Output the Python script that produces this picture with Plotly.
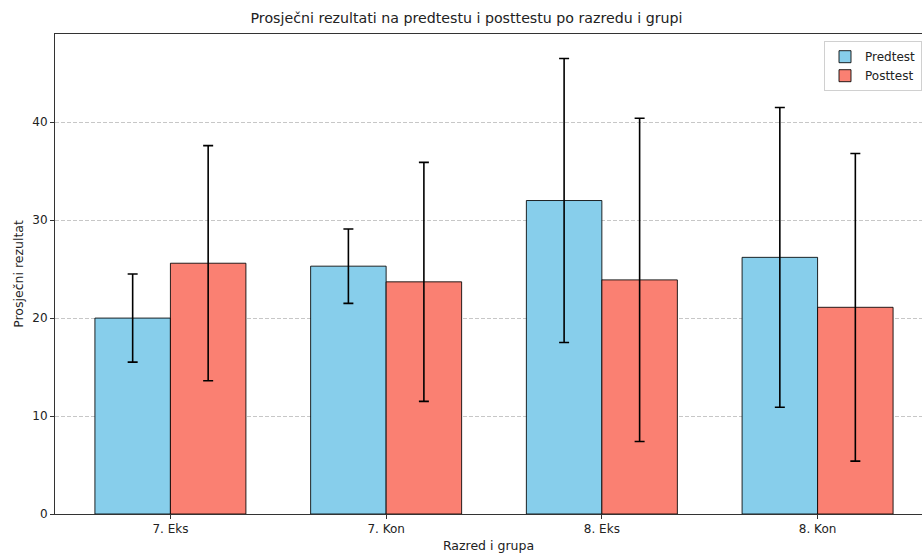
import plotly.graph_objects as go

categories = ["7. Eks", "7. Kon", "8. Eks", "8. Kon"]
pred_mean = [20.0, 25.3, 32.0, 26.2]
pred_err = [4.5, 3.8, 14.5, 15.3]
post_mean = [25.6, 23.7, 23.9, 21.1]
post_err = [12.0, 12.2, 16.5, 15.7]
y_ticks = [0, 10, 20, 30, 40]

x_idx = list(range(len(categories)))

fig = go.Figure()
fig.add_trace(go.Bar(
    x=x_idx, y=pred_mean, name="Predtest",
    marker=dict(color="#87CEEB", line=dict(color="rgba(0,0,0,0.85)", width=1)),
    error_y=dict(type="data", array=pred_err, visible=True, color="black", thickness=1.6, width=5),
))
fig.add_trace(go.Bar(
    x=x_idx, y=post_mean, name="Posttest",
    marker=dict(color="#FA8072", line=dict(color="rgba(0,0,0,0.85)", width=1)),
    error_y=dict(type="data", array=post_err, visible=True, color="black", thickness=1.6, width=5),
))

fig.update_layout(
    width=922, height=554,
    margin=dict(l=55, r=0, t=34, b=40),
    paper_bgcolor="white", plot_bgcolor="white",
    barmode="group", bargap=0.3, bargroupgap=0,
    font=dict(family="DejaVu Sans", size=12, color="#222"),
    title=dict(text="Prosječni rezultati na predtestu i posttestu po razredu i grupi",
               x=0.506, xanchor="center", y=1 - 18 / 554, yanchor="middle",
               font=dict(size=14.2, color="#222")),
    legend=dict(x=1, y=0.985, xanchor="right", yanchor="top",
                bordercolor="#d0d0d0", borderwidth=1, bgcolor="rgba(255,255,255,0.8)",
                font=dict(size=12), traceorder="normal", itemwidth=30,
                tracegroupgap=2),
    showlegend=True,
)
fig.update_xaxes(
    range=[-0.535, 3.484], tickmode="array", tickvals=x_idx, ticktext=categories,
    showline=True, linecolor="#333", linewidth=1, mirror=True,
    ticks="outside", ticklen=4, tickcolor="#333", showgrid=False,
    tickfont=dict(size=12),
    title=dict(text="Razred i grupa", font=dict(size=12.5), standoff=5),
    zeroline=False,
)
fig.update_yaxes(
    range=[0, 49], tickvals=y_ticks,
    showline=True, linecolor="#333", linewidth=1, mirror=False,
    ticks="outside", ticklen=4, tickcolor="#333",
    tickfont=dict(size=12),
    showgrid=True, gridcolor="rgba(180,180,180,0.75)", griddash="4px,2px", gridwidth=1,
    title=dict(text="Prosječni rezultat", font=dict(size=12.5), standoff=5),
    zeroline=False,
)

fig.write_html("out.html", config={"displayModeBar": False},
               post_script="document.body.style.margin='0';document.body.style.padding='0';")
